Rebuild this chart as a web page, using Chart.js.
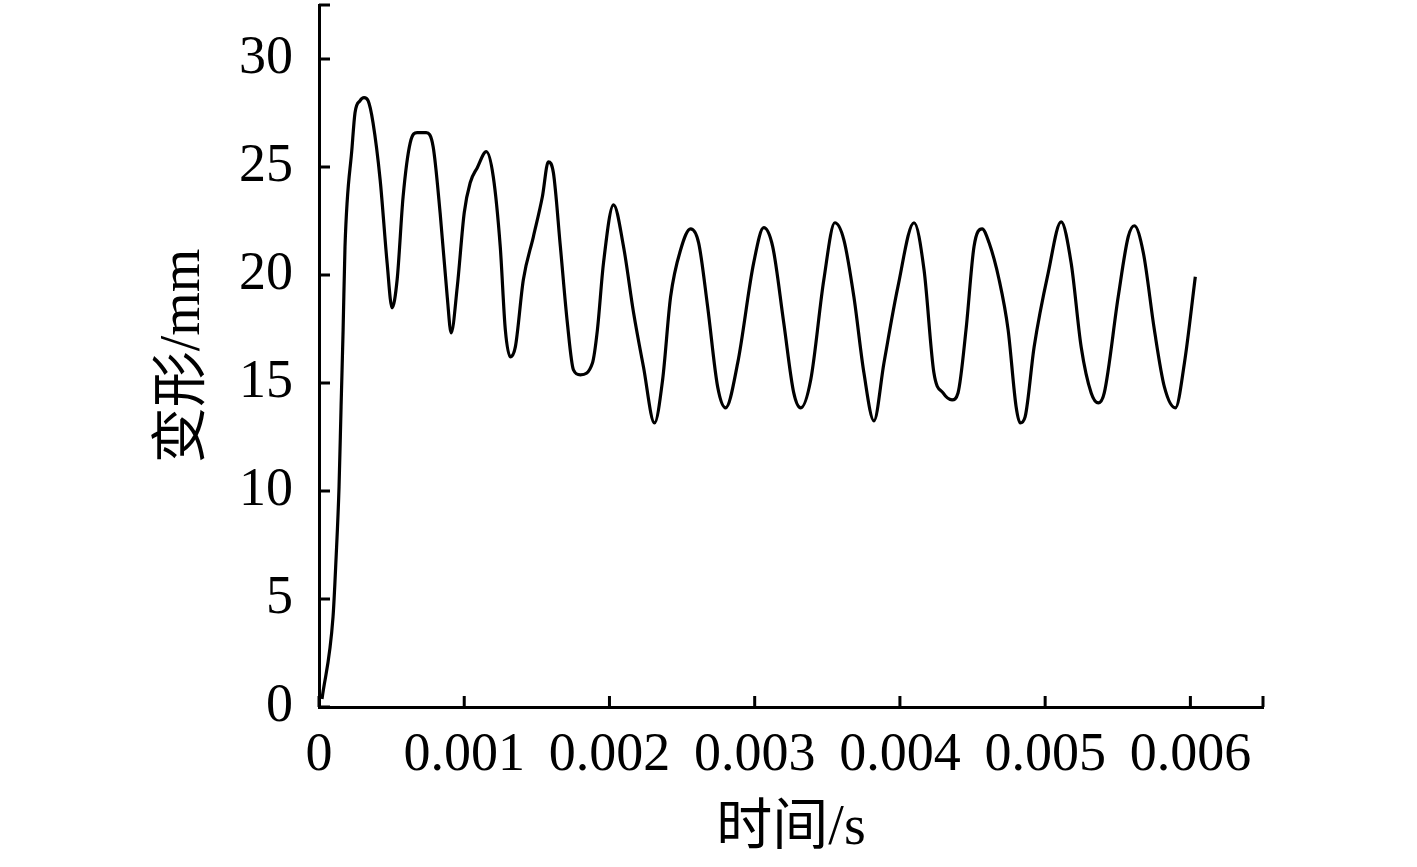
<!DOCTYPE html>
<html>
<head>
<meta charset="utf-8">
<script src="https://cdn.jsdelivr.net/npm/chart.js@4"></script>
<style>
  body { margin: 0; background: #fff; }
</style>
</head>
<body>
<canvas id="grafico" width="1417" height="867"></canvas>
<script>
// tempo (s) e deformação (mm)
const tempos = [
  0.0000207, 0.0000966, 0.000117, 0.000138, 0.000152, 0.000166, 0.000179, 0.000228, 0.000248, 0.000283,
  0.000310, 0.000338, 0.000372, 0.000421, 0.000469, 0.000503, 0.000538, 0.000579, 0.000628, 0.000676,
  0.000738, 0.000786, 0.000834, 0.000883, 0.000910, 0.000952, 0.001000, 0.001041, 0.001090, 0.001152,
  0.001200, 0.001248, 0.001283, 0.001317, 0.001352, 0.001407, 0.001476, 0.001538, 0.001579, 0.001614,
  0.001662, 0.001710, 0.001752, 0.001800, 0.001883, 0.001917, 0.001959, 0.002028, 0.002097, 0.002166,
  0.002234, 0.002310, 0.002366, 0.002421, 0.002490, 0.002559, 0.002614, 0.002676, 0.002745, 0.002800,
  0.002883, 0.002993, 0.003062, 0.003124, 0.003200, 0.003269, 0.003317, 0.003386, 0.003476, 0.003552,
  0.003614, 0.003683, 0.003752, 0.003821, 0.003890, 0.003986, 0.004097, 0.004166, 0.004234, 0.004297,
  0.004359, 0.004400, 0.004455, 0.004510, 0.004566, 0.004614, 0.004683, 0.004745, 0.004800, 0.004828,
  0.004862, 0.004924, 0.005021, 0.005110, 0.005179, 0.005248, 0.005317, 0.005366, 0.005407, 0.005503,
  0.005572, 0.005614, 0.005676, 0.005752, 0.005821, 0.005897, 0.005959, 0.006034
];
const deformacao = [
  0.37, 4.17, 6.81, 10.19, 13.9, 17.46, 21.31, 25.94, 27.51, 28.07,
  28.21, 28.07, 27.05, 24.41, 20.56, 18.48, 19.78, 23.62, 26.12, 26.59,
  26.59, 25.94, 22.88, 18.99, 17.32, 19.45, 22.88, 24.27, 24.97, 25.71,
  24.55, 21.31, 17.46, 16.21, 16.67, 19.78, 21.77, 23.62, 25.24, 24.73,
  21.31, 17.79, 15.61, 15.38, 15.93, 17.46, 20.56, 23.25, 21.31, 18.25,
  15.75, 13.15, 15.15, 18.99, 21.17, 22.14, 21.49, 18.53, 14.82, 13.85,
  15.93, 20.56, 22.19, 21.31, 17.79, 14.54, 13.85, 15.15, 19.78, 22.42,
  21.63, 18.99, 15.47, 13.25, 15.93, 19.45, 22.42, 20.24, 15.47, 14.54,
  14.22, 14.54, 17.46, 21.31, 22.14, 21.49, 19.78, 17.46, 13.90, 13.15,
  13.43, 16.67, 20.10, 22.46, 20.56, 16.67, 14.54, 14.08, 14.54, 18.99,
  21.77, 22.28, 21.03, 17.46, 14.82, 13.85, 15.93, 19.92
];

// marcas dos eixos
const ticksX = [0, 0.001, 0.002, 0.003, 0.004, 0.005, 0.006];
const rotulosX = ['0', '0.001', '0.002', '0.003', '0.004', '0.005', '0.006'];
const ticksY = [0, 5, 10, 15, 20, 25, 30];
const rotulosY = ['0', '5', '10', '15', '20', '25', '30'];
const maxX = 0.0065;
const maxY = 32.5;

const fonte = "'Liberation Serif', 'Noto Sans CJK SC', serif";

// marcas para dentro da área do gráfico
const marcasInternas = {
  id: 'marcasInternas',
  afterDraw(chart) {
    const c = chart.ctx;
    const area = chart.chartArea;
    const sx = chart.scales.x, sy = chart.scales.y;
    c.save();
    c.strokeStyle = '#000';
    c.lineWidth = 3;
    c.beginPath();
    sx.ticks.forEach(t => {
      const px = sx.getPixelForValue(t.value);
      c.moveTo(px, area.bottom);
      c.lineTo(px, area.bottom - 11);
    });
    sy.ticks.forEach(t => {
      const py = sy.getPixelForValue(t.value);
      c.moveTo(area.left, py);
      c.lineTo(area.left + 11, py);
    });
    c.stroke();
    c.restore();
  }
};

new Chart(document.getElementById('grafico'), {
  type: 'line',
  data: {
    datasets: [{
      data: tempos.map((t, i) => ({ x: t, y: deformacao[i] })),
      borderColor: '#000',
      borderWidth: 3.2,
      pointRadius: 0,
      fill: false,
      cubicInterpolationMode: 'monotone'
    }]
  },
  options: {
    responsive: false,
    animation: false,
    layout: { padding: { left: 0, right: 154, top: 5, bottom: 0 } },
    plugins: { legend: { display: false }, tooltip: { enabled: false } },
    scales: {
      x: {
        type: 'linear',
        min: 0,
        max: maxX,
        afterBuildTicks: s => { s.ticks = ticksX.concat([maxX]).map(v => ({ value: v })); },
        afterFit: s => { s.height = 160; s.paddingLeft = 0; s.paddingRight = 0; },
        grid: { display: false, drawTicks: false },
        border: { display: true, color: '#000', width: 3 },
        ticks: {
          color: '#000',
          padding: 16,
          maxRotation: 0,
          autoSkip: false,
          font: { family: fonte, size: 54 },
          callback: (v, i) => rotulosX[i] ?? ''
        },
        title: {
          display: true,
          text: '时间/s',
          color: '#000',
          padding: 4,
          font: { family: fonte, size: 56 }
        }
      },
      y: {
        min: 0,
        max: maxY,
        afterBuildTicks: s => { s.ticks = ticksY.concat([maxY]).map(v => ({ value: v })); },
        afterFit: s => { s.width = 319; s.paddingTop = 0; s.paddingBottom = 0; },
        grid: { display: false, drawTicks: false },
        border: { display: true, color: '#000', width: 3 },
        ticks: {
          color: '#000',
          padding: 26,
          autoSkip: false,
          font: { family: fonte, size: 54 },
          callback: (v, i) => rotulosY[i] ?? ''
        },
        title: {
          display: true,
          text: '变形/mm',
          color: '#000',
          padding: 151,
          font: { family: fonte, size: 56 }
        }
      }
    }
  },
  plugins: [marcasInternas]
});
</script>
</body>
</html>
